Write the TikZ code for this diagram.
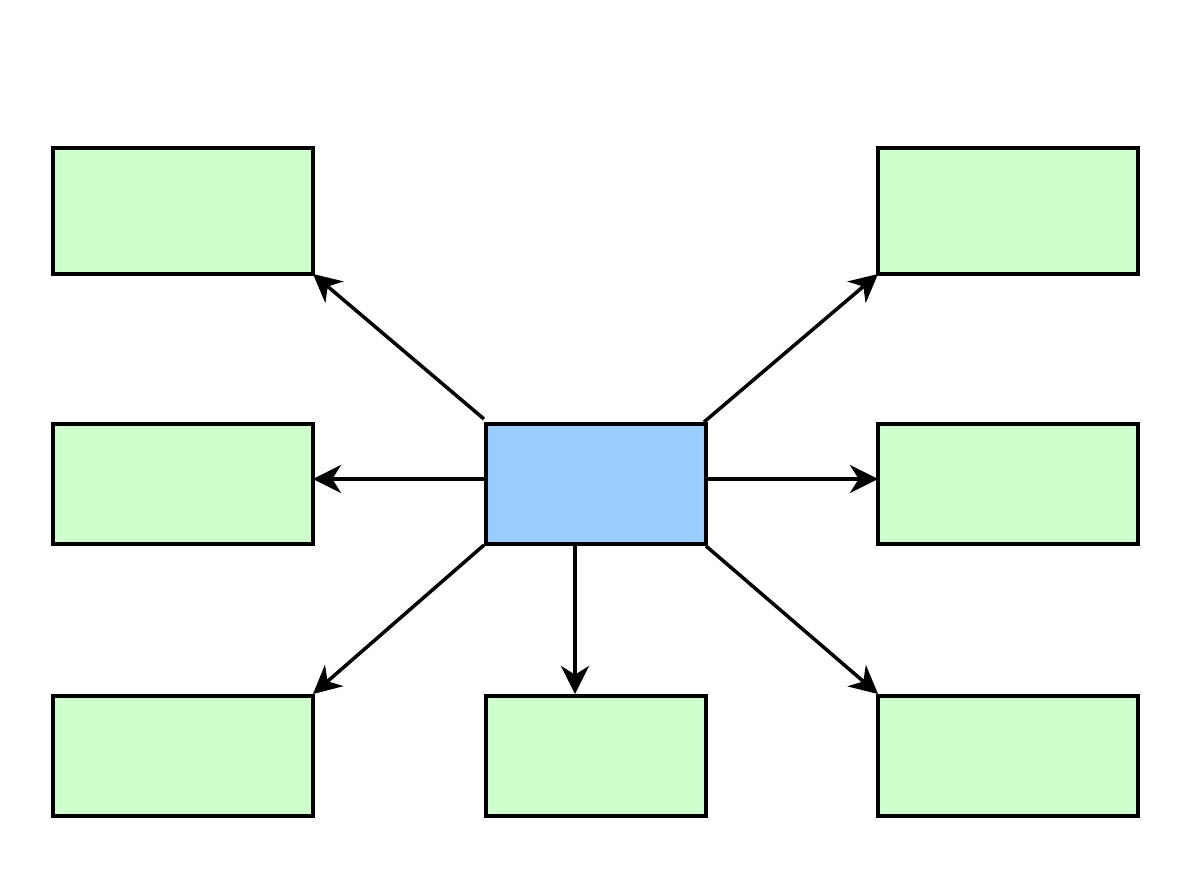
\documentclass[tikz,border=0pt]{standalone}
\usetikzlibrary{arrows.meta}
\definecolor{boxgreen}{HTML}{CCFFCC}
\definecolor{boxblue}{HTML}{99CCFF}
\begin{document}
\begin{tikzpicture}[x=0.02cm,y=-0.02cm,
  base/.style={draw=black,line width=2pt,inner sep=0pt,outer sep=0pt,rectangle},
  wbox/.style={base,fill=boxgreen,minimum width=5.2cm},
  nbox/.style={base,fill=boxgreen,minimum width=4.4cm,minimum height=2.4cm},
  bbox/.style={base,fill=boxblue,minimum width=4.4cm,minimum height=2.4cm},
  conn/.style={line width=2pt,-{Stealth[length=16pt,width=16pt,inset=5pt]}}]
\useasboundingbox (0,0) rectangle (1191,893);
\fill[white] (0,0) rectangle (1191,893);
\node[wbox,minimum height=2.52cm] (tl) at (183,211) {};
\node[wbox,minimum height=2.52cm] (tr) at (1008,211) {};
\node[wbox,minimum height=2.4cm] (ml) at (183,484) {};
\node[wbox,minimum height=2.4cm] (mr) at (1008,484) {};
\node[wbox,minimum height=2.4cm] (bl) at (183,756) {};
\node[nbox] (bm) at (596,756) {};
\node[wbox,minimum height=2.4cm] (br) at (1008,756) {};
\node[bbox] (c) at (596,484) {};
\coordinate (s1) at (484,419);
\coordinate (s2) at (704,422);
\coordinate (s3) at (484,479);
\coordinate (s4) at (706,479);
\coordinate (s5) at (484,545);
\coordinate (s6) at (575,546);
\coordinate (s7) at (706,546);
\draw[conn] (s1) -- (tl.south east);
\draw[conn] (s2) -- (tr.south west);
\draw[conn] (s3) -- (ml.east |- s3);
\draw[conn] (s4) -- (mr.west |- s4);
\draw[conn] (s5) -- ([yshift=0.04cm]bl.north east);
\draw[conn] (s6) -- ([yshift=0.04cm]bm.north -| s6);
\draw[conn] (s7) -- ([yshift=0.04cm]br.north west);
\end{tikzpicture}
\end{document}
